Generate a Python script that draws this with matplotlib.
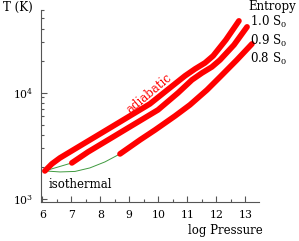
import numpy as np
import matplotlib
matplotlib.use("Agg")
import matplotlib.pyplot as plt
from matplotlib.ticker import FixedLocator, NullFormatter

# -----------------------------
# data
# -----------------------------
# adiabats (log P, T in K)
logp_10 = [6.09, 6.33, 6.61, 7.30, 7.99, 8.85, 9.71, 10.40, 10.92, 11.27, 11.61, 11.89, 12.33, 12.78]
temp_10 = [1835, 2136, 2432, 3154, 4090, 5658, 7833, 11080, 14370, 16720, 19040, 22150, 31330, 47280]

logp_09 = [7.02, 7.58, 8.27, 9.13, 9.99, 10.68, 11.16, 11.51, 11.85, 12.13, 12.61, 13.06]
temp_09 = [2183, 2770, 3592, 4971, 6878, 9940, 13170, 15330, 17460, 20310, 28110, 41520]

logp_08 = [8.68, 9.37, 9.89, 10.58, 11.09, 11.68, 12.13, 12.71, 13.23]
temp_08 = [2652, 3592, 4460, 6039, 7665, 10610, 14060, 20310, 28730]

# isotherm pieces joining the adiabat starts
iso_a_logp = [6.09, 7.02]
iso_a_temp = [1835, 2183]
iso_b_logp = [6.09, 6.61, 7.13, 7.64, 8.16, 8.68]
iso_b_temp = [1835, 1795, 1815, 1958, 2230, 2652]

entropy_labels = ["1.0 S$_0$", "0.9 S$_0$", "0.8 S$_0$"]
x_major = [6, 7, 8, 9, 10, 11, 12, 13]
x_minor = [6.5, 7.5, 8.5, 9.5, 10.5, 11.5, 12.5, 13.5]
y_major = [1e3, 1e4]
y_major_labels = ["10$^3$", "10$^4$"]
y_minor = [2e3, 3e3, 4e3, 5e3, 6e3, 7e3, 8e3, 9e3, 2e4, 3e4, 4e4, 5e4, 6e4]

# -----------------------------
# style
# -----------------------------
plt.rcParams["font.family"] = ["DejaVu Serif"]
plt.rcParams["mathtext.fontset"] = "dejavuserif"
axis_grey = "#555555"
red = "#ff0000"
fs = 8.5

fig = plt.figure(figsize=(2.99, 2.41), dpi=100)
ax = fig.add_axes([0.137, 0.162, 0.729, 0.797])

ax.plot(iso_a_logp, iso_a_temp, color="#3f9a3f", lw=0.7)
ax.plot(iso_b_logp, iso_b_temp, color="#3f9a3f", lw=0.7)

for lp, tt in [(logp_10, temp_10), (logp_09, temp_09), (logp_08, temp_08)]:
    ax.plot(lp, tt, color=red, lw=4.1, solid_capstyle="round")

ax.set_yscale("log")
ax.set_xlim(5.955, 13.47)
ax.set_ylim(937, 6.0e4)

ax.xaxis.set_major_locator(FixedLocator(x_major))
ax.xaxis.set_minor_locator(FixedLocator(x_minor))
ax.yaxis.set_major_locator(FixedLocator(y_major))
ax.yaxis.set_minor_locator(FixedLocator(y_minor))
ax.set_yticklabels(y_major_labels)
ax.yaxis.set_minor_formatter(NullFormatter())

for s in ["top", "right"]:
    ax.spines[s].set_visible(False)
for s in ["left", "bottom"]:
    ax.spines[s].set_color(axis_grey)
    ax.spines[s].set_linewidth(0.8)

ax.tick_params(which="both", direction="in", color=axis_grey, width=0.8,
               labelsize=7.8, pad=5.5)
ax.tick_params(which="major", length=4.5)
ax.tick_params(which="minor", length=2.5)

# labels placed by figure fraction
fig.text(0.010, 0.955, "T (K)", fontsize=fs, va="baseline", ha="left")
fig.text(0.629, 0.029, "log Pressure", fontsize=fs, va="baseline", ha="left")
fig.text(0.829, 0.957, "Entropy", fontsize=fs, va="baseline", ha="left")
for i, lab in enumerate(entropy_labels):
    fig.text(0.836, 0.892 - i * 0.077, lab, fontsize=fs, va="baseline", ha="left")

fig.text(0.164, 0.220, "isothermal", fontsize=fs, va="baseline", ha="left")
fig.text(0.498, 0.610, "adiabatic", fontsize=fs, color=red, rotation=40,
         rotation_mode="anchor", va="center", ha="center")

fig.savefig("out.png", dpi=100)
